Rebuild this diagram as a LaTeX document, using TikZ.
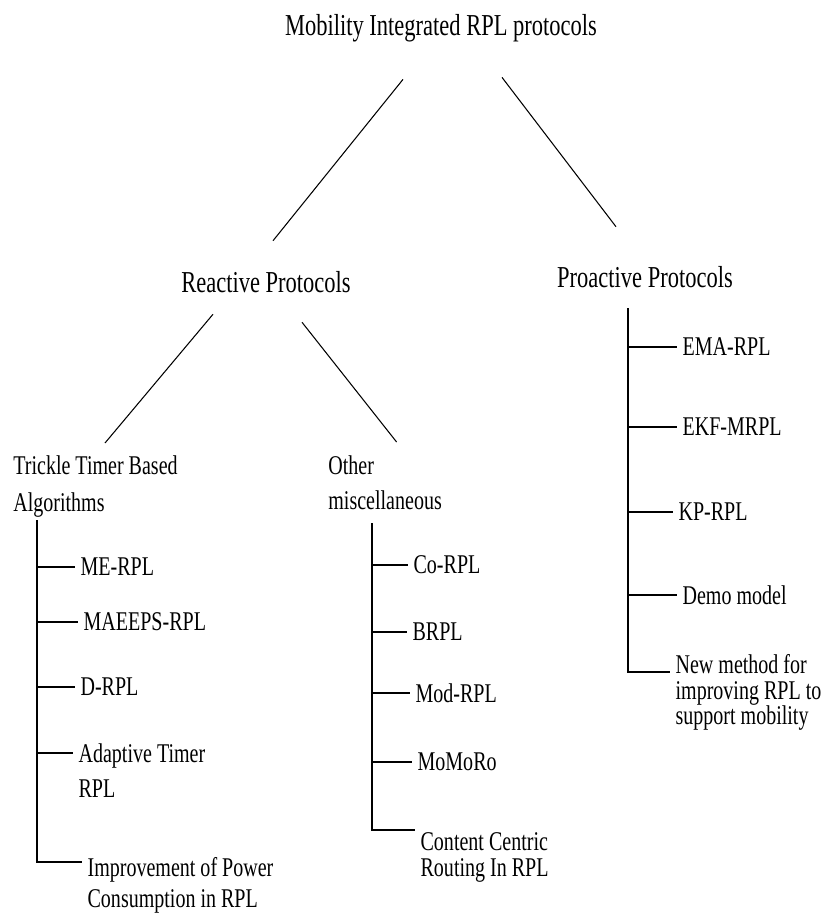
\documentclass[tikz,border=0pt]{standalone}
\usepackage{fontspec}
\setmainfont[FakeStretch=0.74]{Liberation Serif}
\usetikzlibrary{calc}

\begin{document}
\begin{tikzpicture}[x=0.02cm,y=-0.02cm,
  head/.style={font=\fontsize{17.3}{20}\selectfont, inner sep=2pt},
  subhead/.style={font=\fontsize{15.4}{20}\selectfont, align=left, anchor=north west, inner sep=2pt},
  leaf/.style={font=\fontsize{15.4}{18}\selectfont, align=left, anchor=north west, inner xsep=3pt, inner ysep=2pt},
  branchline/.style={line width=0.6pt},
  treeline/.style={line width=1pt}]
\useasboundingbox (0,0) rectangle (826,915);
\node[head] (root) at (441,28) {Mobility Integrated RPL protocols};
\node[head] (react) at (266,282) {Reactive Protocols};
\node[head] (proact) at (645,277) {Proactive Protocols};
\node[subhead, font=\fontsize{15.4}{21}\selectfont] (trickle) at (9.5,452) {Trickle Timer Based\\Algorithms};
\node[subhead, font=\fontsize{15.4}{19.9}\selectfont] (other) at (324.5,452) {Other\\miscellaneous};

\node[leaf] (me) at (75,554) {ME-RPL};
\node[leaf] (maeeps) at (78,609) {MAEEPS-RPL};
\node[leaf] (drpl) at (75,674) {D-RPL};
\node[leaf, font=\fontsize{15.4}{19.9}\selectfont] (adapt) at (73,740) {Adaptive Timer\\RPL};
\node[leaf, font=\fontsize{15.4}{17.5}\selectfont] (impr) at (82,854) {Improvement of Power\\Consumption in RPL};

\node[leaf] (corpl) at (408,552) {Co-RPL};
\node[leaf] (brpl) at (407,619) {BRPL};
\node[leaf] (modrpl) at (410,680) {Mod-RPL};
\node[leaf] (momoro) at (412,749) {MoMoRo};
\node[leaf, font=\fontsize{15.4}{14.5}\selectfont] (ccr) at (415,829) {Content Centric\\Routing In RPL};

\node[leaf] (ema) at (677,334) {EMA-RPL};
\node[leaf] (ekf) at (677,414) {EKF-MRPL};
\node[leaf] (kp) at (673,499) {KP-RPL};
\node[leaf] (demo) at (677,582) {Demo model};
\node[leaf, font=\fontsize{15.4}{14.5}\selectfont] (newm) at (670,651) {New method for\\improving RPL to\\support mobility};

\coordinate (ltrunk) at (37,520);
\coordinate (mtrunk) at (372,523);
\coordinate (rtrunk) at (628,308);

\draw[branchline] ($(root.south)+(-38,33.7)$) -- ($(react.north)+(7,-26.7)$);
\draw[branchline] ($(root.south)+(61,31.7)$) -- ($(proact.north)+(-29,-35.7)$);
\draw[branchline] ($(react.south)+(-53,17.7)$) -- ($(trickle.north)+(9.5,-9)$);
\draw[branchline] ($(react.south)+(36,25.7)$) -- ($(other.north)+(11.5,-10)$);

\draw[treeline] (ltrunk) |- ([yshift=-0.26cm]me.north west);
\draw[treeline] (ltrunk) |- ([yshift=-0.26cm]maeeps.north west);
\draw[treeline] (ltrunk) |- ([yshift=-0.26cm]drpl.north west);
\draw[treeline] (ltrunk) |- ([yshift=-0.26cm]adapt.north west);
\draw[treeline] (ltrunk) |- ([yshift=-0.16cm]impr.north west);

\draw[treeline] (mtrunk) |- ([yshift=-0.26cm]corpl.north west);
\draw[treeline] (mtrunk) |- ([yshift=-0.26cm]brpl.north west);
\draw[treeline] (mtrunk) |- ([yshift=-0.26cm]modrpl.north west);
\draw[treeline] (mtrunk) |- ([yshift=-0.26cm]momoro.north west);
\draw[treeline] (mtrunk) |- ([yshift=-0.02cm]ccr.north west);

\draw[treeline] (rtrunk) |- ([yshift=-0.26cm]ema.north west);
\draw[treeline] (rtrunk) |- ([yshift=-0.26cm]ekf.north west);
\draw[treeline] (rtrunk) |- ([yshift=-0.26cm]kp.north west);
\draw[treeline] (rtrunk) |- ([yshift=-0.26cm]demo.north west);
\draw[treeline] (rtrunk) |- ([yshift=-0.42cm]newm.north west);
\end{tikzpicture}
\end{document}
